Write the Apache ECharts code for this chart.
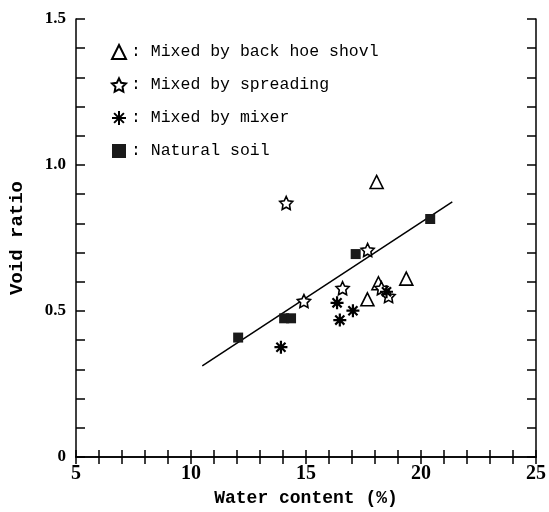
<!DOCTYPE html>
<html>
<head>
<meta charset="utf-8">
<script src="https://cdn.jsdelivr.net/npm/echarts@6/dist/echarts.min.js"></script>
<style>
  html, body { margin: 0; padding: 0; background: #fff; }
  #chart { width: 549px; height: 512px; }
</style>
</head>
<body>
<div id="chart"></div>
<script>
// data: [water content %, void ratio]
const backHoe = [[18.07, 0.942], [19.36, 0.611], [18.15, 0.595], [17.67, 0.540]]
const spreading = [[14.14, 0.870], [17.68, 0.709], [16.59, 0.578], [14.91, 0.534], [18.28, 0.578], [18.59, 0.551]]
const mixer = [[16.35, 0.528], [17.04, 0.501], [16.47, 0.469], [13.91, 0.376], [18.50, 0.566]]
const natural = [[20.40, 0.815], [17.16, 0.695], [14.05, 0.475], [14.35, 0.475], [12.05, 0.409]]
const fitLine = [[10.49, 0.312], [21.36, 0.874]]

const xTicks = [5, 10, 15, 20, 25]
const yTicks = ['0', '0.5', '1.0', '1.5']

const starPath = 'path://M0,-100L29,-40L95,-31L48,15L59,81L0,50L-59,81L-48,15L-95,-31L-29,-40Z'
const asteriskPath = 'path://M0,-10L0,10M-10,0L10,0M-7,-7L7,7M-7,7L7,-7'

let chart = echarts.init(document.getElementById('chart'))

const lineStyle = { color: '#000', width: 1.5 }
const xBase = {
  type: 'value',
  min: 5,
  max: 25,
  interval: 1,
  axisLine: { show: true, lineStyle: lineStyle },
  axisTick: { show: true, inside: true, length: 7, lineStyle: lineStyle },
  splitLine: { show: false },
}
const yBase = {
  type: 'value',
  min: 0,
  max: 1.5,
  interval: 0.1,
  axisLine: { show: true, lineStyle: lineStyle },
  axisTick: { show: true, inside: true, length: 9, lineStyle: lineStyle },
  splitLine: { show: false },
}

chart.setOption({
  animation: false,
  backgroundColor: '#fff',
  grid: { left: 75, right: 12, top: 19, bottom: 55 },
  legend: {
    orient: 'vertical',
    left: 106,
    top: 37,
    itemWidth: 14,
    itemHeight: 14,
    itemGap: 13,
    formatter: name => ': ' + name,
    textStyle: { fontFamily: 'Liberation Mono', fontSize: 16.5, color: '#000', lineHeight: 20 },
    data: ['Mixed by back hoe shovl', 'Mixed by spreading', 'Mixed by mixer', 'Natural soil'],
  },
  xAxis: [
    Object.assign({}, xBase, {
      position: 'bottom',
      name: 'Water content (%)',
      nameLocation: 'middle',
      nameGap: 32,
      nameTextStyle: { fontFamily: 'Liberation Mono', fontWeight: 'bold', fontSize: 18, color: '#000' },
      axisLabel: {
        margin: 7,
        color: '#000',
        fontFamily: 'Liberation Serif',
        fontWeight: 'bold',
        fontSize: 20,
        formatter: v => (xTicks.indexOf(v) >= 0 ? String(v) : ''),
      },
    }),
    Object.assign({}, xBase, { position: 'top', axisLabel: { show: false } }),
  ],
  yAxis: [
    Object.assign({}, yBase, {
      position: 'left',
      name: 'Void ratio',
      nameLocation: 'middle',
      nameGap: 49,
      nameTextStyle: { fontFamily: 'Liberation Mono', fontWeight: 'bold', fontSize: 19, color: '#000' },
      axisLabel: {
        margin: 10,
        color: '#000',
        fontFamily: 'Liberation Serif',
        fontWeight: 'bold',
        fontSize: 17,
        formatter: v => {
          let s = v === 0 ? '0' : v.toFixed(1)
          return yTicks.indexOf(s) >= 0 ? s : ''
        },
      },
    }),
    Object.assign({}, yBase, { position: 'right', axisLabel: { show: false } }),
  ],
  series: [
    {
      name: 'Mixed by back hoe shovl',
      type: 'scatter',
      data: backHoe,
      symbol: 'triangle',
      symbolSize: 13,
      itemStyle: { color: '#fff', borderColor: '#000', borderWidth: 1.6, opacity: 1 },
    },
    {
      name: 'Mixed by spreading',
      type: 'scatter',
      data: spreading,
      symbol: starPath,
      symbolSize: 13,
      itemStyle: { color: '#fff', borderColor: '#000', borderWidth: 1.6, opacity: 1 },
    },
    {
      name: 'Mixed by mixer',
      type: 'scatter',
      data: mixer,
      symbol: asteriskPath,
      symbolSize: 13,
      itemStyle: { color: '#000', borderColor: '#000', borderWidth: 2.2, opacity: 1 },
    },
    {
      name: 'Natural soil',
      type: 'scatter',
      data: natural,
      symbol: 'rect',
      symbolSize: 10,
      itemStyle: { color: '#1a1a1a', opacity: 1 },
    },
    {
      name: 'fit',
      type: 'line',
      data: fitLine,
      symbol: 'none',
      silent: true,
      lineStyle: { color: '#000', width: 1.5 },
      z: 1,
    },
  ],
})
</script>
</body>
</html>
